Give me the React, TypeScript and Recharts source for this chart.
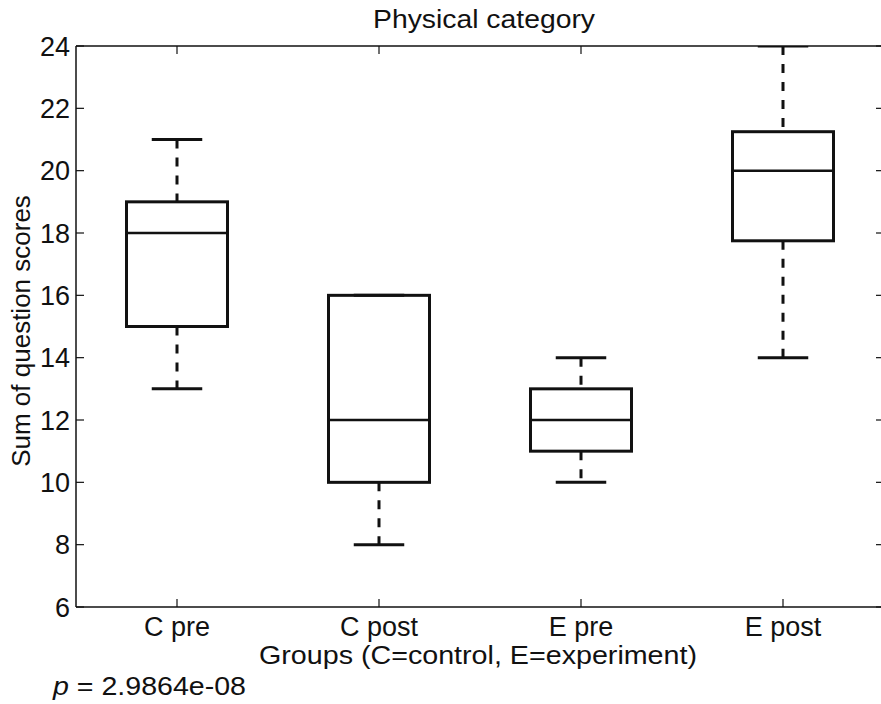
import React from 'react';
import { ComposedChart, Bar, XAxis, YAxis } from 'recharts';

const GROUPS = ['C pre', 'C post', 'E pre', 'E post'];
const WHISKER_LOW = [13, 8, 10, 14];
const Q1 = [15, 10, 11, 17.75];
const MEDIAN = [18, 12, 12, 20];
const Q3 = [19, 16, 13, 21.25];
const WHISKER_HIGH = [21, 16, 14, 24];
const Y_TICKS = [6, 8, 10, 12, 14, 16, 18, 20, 22, 24];

const FONT = '"Liberation Sans", Arial, Helvetica, sans-serif';
const INK = '#111';
const TICK_LEN = 8;
const FS = 27;

const data = GROUPS.map((group, i) => ({
  group,
  low: WHISKER_LOW[i],
  q1: Q1[i],
  median: MEDIAN[i],
  q3: Q3[i],
  high: WHISKER_HIGH[i],
  range: [WHISKER_LOW[i], WHISKER_HIGH[i]],
}));

// box drawn inside the ranged bar (low..high) using the bar's own pixel extent
const BoxShape = (props: any) => {
  const { x, y, width, height, payload } = props;
  const { low, q1, median, q3, high } = payload;
  const top = Math.min(y, y + height);
  const bottom = Math.max(y, y + height);
  const toY = (v: number) => bottom - ((v - low) / (high - low)) * (bottom - top);
  const cx = x + width / 2;
  const cap = width / 4;
  return (
    <g stroke={INK} fill="none">
      <line x1={cx} x2={cx} y1={toY(high)} y2={toY(q3)} strokeWidth={3} strokeDasharray="9 9" />
      <line x1={cx} x2={cx} y1={toY(q1)} y2={toY(low)} strokeWidth={3} strokeDasharray="9 9" />
      <line x1={cx - cap} x2={cx + cap} y1={toY(high)} y2={toY(high)} strokeWidth={3} />
      <line x1={cx - cap} x2={cx + cap} y1={toY(low)} y2={toY(low)} strokeWidth={3} />
      <rect x={x} y={toY(q3)} width={width} height={toY(q1) - toY(q3)} strokeWidth={3} />
      <line x1={x} x2={x + width} y1={toY(median)} y2={toY(median)} strokeWidth={2.5} />
    </g>
  );
};

const LeftTick = (props: any) => {
  const { x, y, payload } = props;
  return (
    <g>
      <line x1={x + 6} x2={x + 6 + TICK_LEN} y1={y} y2={y} stroke={INK} strokeWidth={1.2} />
      <text x={x} y={y} dy="0.36em" textAnchor="end" fontSize={FS} fontFamily={FONT} fill={INK}>
        {payload.value}
      </text>
    </g>
  );
};

const RightTick = (props: any) => {
  const { x, y } = props;
  return <line x1={x} x2={x - TICK_LEN} y1={y} y2={y} stroke={INK} strokeWidth={1.2} />;
};

const BottomTick = (props: any) => {
  const { x, y, payload } = props;
  return (
    <g>
      <line x1={x} x2={x} y1={y - 4} y2={y - 4 - TICK_LEN} stroke={INK} strokeWidth={1.2} />
      <text x={x} y={y + 25} textAnchor="middle" fontSize={FS} fontFamily={FONT} fill={INK}>
        {payload.value}
      </text>
    </g>
  );
};

const TopTick = (props: any) => {
  const { x, y } = props;
  return <line x1={x} x2={x} y1={y} y2={y + TICK_LEN} stroke={INK} strokeWidth={1.2} />;
};

export default function App() {
  return (
    <div
      style={{
        position: 'absolute',
        left: 0,
        top: 0,
        width: 881,
        height: 704,
        overflow: 'hidden',
        background: '#fff',
        fontFamily: FONT,
      }}
    >
      <ComposedChart
        width={908}
        height={704}
        data={data}
        barCategoryGap="25%"
        margin={{ top: 16, right: 4, bottom: 37, left: 16 }}
      >
        <XAxis
          dataKey="group"
          height={60}
          tickLine={false}
          tickSize={0}
          tickMargin={4}
          axisLine={{ stroke: INK, strokeWidth: 1.5 }}
          tick={<BottomTick />}
          interval={0}
        />
        <XAxis
          xAxisId="top"
          orientation="top"
          dataKey="group"
          height={30}
          tickLine={false}
          tickSize={0}
          tickMargin={0}
          axisLine={{ stroke: INK, strokeWidth: 1.5 }}
          tick={<TopTick />}
          interval={0}
        />
        <YAxis
          type="number"
          domain={[6, 24]}
          ticks={Y_TICKS}
          width={60}
          tickLine={false}
          tickSize={0}
          tickMargin={6}
          axisLine={{ stroke: INK, strokeWidth: 1.5 }}
          tick={<LeftTick />}
          interval={0}
          allowDataOverflow
        />
        <YAxis
          yAxisId="right"
          orientation="right"
          type="number"
          domain={[6, 24]}
          ticks={Y_TICKS}
          width={20}
          tickLine={false}
          tickSize={0}
          tickMargin={0}
          axisLine={{ stroke: INK, strokeWidth: 1.5 }}
          tick={<RightTick />}
          interval={0}
          allowDataOverflow
        />
        <Bar dataKey="range" shape={<BoxShape />} isAnimationActive={false} />
      </ComposedChart>
      <svg
        width={881}
        height={704}
        style={{ position: 'absolute', left: 0, top: 0, pointerEvents: 'none' }}
      >
        <g fontFamily={FONT} fill={INK}>
          <text x={484} y={28} textAnchor="middle" fontSize={26} textLength={222} lengthAdjust="spacingAndGlyphs">
            Physical category
          </text>
          <text x={478} y={664} textAnchor="middle" fontSize={26} textLength={438} lengthAdjust="spacingAndGlyphs">
            Groups (C=control, E=experiment)
          </text>
          <text x={30} y={331} textAnchor="middle" fontSize={26} transform="rotate(-90 30 331)">
            Sum of question scores
          </text>
          <text x={53} y={695} fontSize={26} textLength={193} lengthAdjust="spacingAndGlyphs">
            <tspan fontStyle="italic">p</tspan> = 2.9864e-08
          </text>
        </g>
      </svg>
    </div>
  );
}
